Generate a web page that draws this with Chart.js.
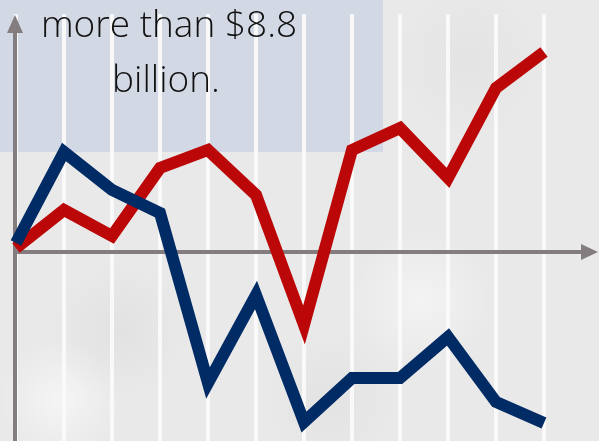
<!DOCTYPE html>
<html>
<head>
<meta charset="utf-8">
<script src="https://cdn.jsdelivr.net/npm/chart.js@4.4.1/dist/chart.umd.min.js"></script>
<style>
  html, body { margin: 0; padding: 0; }
  body {
    width: 599px; height: 441px; overflow: hidden;
    background:
      radial-gradient(circle at 120px 330px, rgba(215,215,215,0.4), rgba(215,215,215,0) 70px),
      radial-gradient(circle at 470px 60px, rgba(220,220,220,0.4), rgba(220,220,220,0) 80px),
      radial-gradient(circle at 330px 400px, rgba(218,218,218,0.4), rgba(218,218,218,0) 70px),
      radial-gradient(circle at 60px 400px, rgba(250,250,250,0.7), rgba(250,250,250,0) 60px),
      radial-gradient(circle at 420px 300px, rgba(250,250,250,0.6), rgba(250,250,250,0) 70px),
      #e9e9e9;
  }
  #wrap { position: relative; width: 599px; height: 441px; }
</style>
</head>
<body>
<div id="wrap"><canvas id="chart"></canvas></div>
<script>
// Data (values measured from the x-axis, positive up)
const periods = ["1", "2", "3", "4", "5", "6", "7", "8", "9", "10", "11", "12"];
const redSeries = [4, 42, 16, 84, 102, 57, -73, 102, 124, 74, 164, 200];
const blueSeries = [9, 100, 62, 39, -131, -43, -170, -126, -126, -85, -150, -171];
const captionLines = ["more than $8.8", "billion."];

const axisColor = "#847d7f";

// Panel, grid, axes and caption
const decor = {
  id: "decor",
  beforeDatasetsDraw(chart) {
    const { ctx, chartArea, scales } = chart;
    const x = scales.x, y = scales.y;
    ctx.save();
    // light blue panel behind caption
    ctx.fillStyle = "rgba(208,214,228,0.92)";
    ctx.fillRect(0, 0, 383, 152);
    // vertical white grid lines
    ctx.strokeStyle = "rgba(250,250,250,0.95)";
    ctx.lineWidth = 4;
    x.ticks.forEach((t, i) => {
      const px = x.getPixelForTick(i);
      ctx.beginPath();
      ctx.moveTo(px, chartArea.top);
      ctx.lineTo(px, chart.height);
      ctx.stroke();
    });
    // axes
    const x0 = x.getPixelForValue(0) - 1;
    const y0 = y.getPixelForValue(0);
    ctx.strokeStyle = axisColor;
    ctx.lineWidth = 4;
    ctx.beginPath();
    ctx.moveTo(x0, chart.height);
    ctx.lineTo(x0, 28);
    ctx.moveTo(x0 - 2, y0);
    ctx.lineTo(586, y0);
    ctx.stroke();
    // arrow heads
    ctx.fillStyle = axisColor;
    ctx.beginPath();
    ctx.moveTo(x0, 15);
    ctx.lineTo(x0 + 8, 33);
    ctx.lineTo(x0 - 8, 33);
    ctx.closePath();
    ctx.fill();
    ctx.beginPath();
    ctx.moveTo(598, y0);
    ctx.lineTo(581, y0 - 8);
    ctx.lineTo(581, y0 + 8);
    ctx.closePath();
    ctx.fill();
    // caption
    ctx.fillStyle = "#111111";
    ctx.font = "300 37px 'Open Sans'";
    ctx.textAlign = "center";
    ctx.textBaseline = "alphabetic";
    ctx.fillText(captionLines[0], 169, 37);
    ctx.fillText(captionLines[1], 166, 92);
    ctx.restore();
  }
};

new Chart(document.getElementById("chart"), {
  type: "line",
  data: {
    labels: periods,
    datasets: [
      {
        data: blueSeries,
        borderColor: "#002b64",
        borderWidth: 12,
        borderJoinStyle: "miter",
        borderCapStyle: "butt",
        pointRadius: 0,
        tension: 0,
        fill: false
      },
      {
        data: redSeries,
        borderColor: "#bb0707",
        borderWidth: 12,
        borderJoinStyle: "miter",
        borderCapStyle: "butt",
        pointRadius: 0,
        tension: 0,
        fill: false
      }
    ]
  },
  options: {
    responsive: true,
    maintainAspectRatio: false,
    animation: false,
    layout: { padding: { left: 16, right: 55, top: 14, bottom: 0 } },
    plugins: { legend: { display: false }, tooltip: { enabled: false } },
    scales: {
      x: { type: "category", display: false, offset: false },
      y: { type: "linear", display: false, min: -189, max: 238 }
    },
    elements: { line: { clip: false } }
  },
  plugins: [decor]
});
</script>
</body>
</html>
